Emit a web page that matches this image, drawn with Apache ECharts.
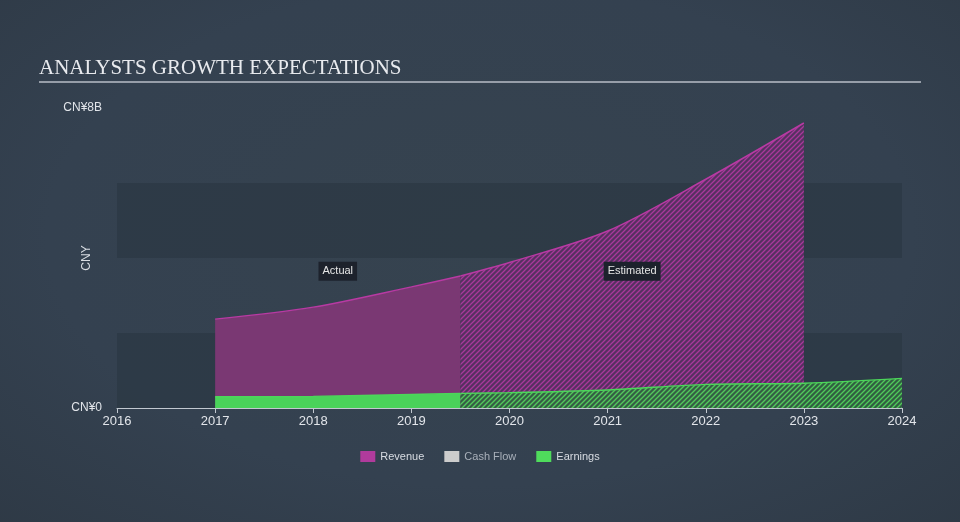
<!DOCTYPE html>
<html>
<head>
<meta charset="utf-8">
<script src="https://cdn.jsdelivr.net/npm/echarts@6/dist/echarts.min.js"></script>
<style>
html,body{margin:0;padding:0;width:960px;height:522px;overflow:hidden;
background: radial-gradient(ellipse 75% 80% at 50% 45%, #36434f 0%, #344150 60%, #2e3945 100%);}
#c{width:960px;height:522px;}
</style>
</head>
<body>
<div id="c"></div>
<script>
// ---- data (x in fractional years) ----
const titleText = 'ANALYSTS GROWTH EXPECTATIONS';
const legendNames = ['Revenue', 'Cash Flow', 'Earnings'];
const revenueActualYears = [2017.0, 2018.0, 2019.0, 2019.5];
const revenueActual = [2.37, 2.69, 3.23, 3.52];
const revenueEstYears = [2019.5, 2020.0, 2021.0, 2022.0, 2023.0];
const revenueEst = [3.52, 3.88, 4.72, 6.10, 7.60];
const earningsActualYears = [2017.0, 2018.0, 2019.0, 2019.5];
const earningsActual = [0.30, 0.31, 0.36, 0.39];
const earningsEstYears = [2019.5, 2020.0, 2021.0, 2022.0, 2023.0, 2024.0];
const earningsEst = [0.39, 0.41, 0.48, 0.63, 0.66, 0.79];
const annotations = [{ text: 'Actual', year: 2018.25, value: 3.65 }, { text: 'Estimated', year: 2021.25, value: 3.65 }];
const yTickValues = [0, 8];

function pairs(d, v) { return d.map((x, i) => [x, v[i]]); }

function hatch(bg, fg) {
  const c = document.createElement('canvas');
  c.width = 5; c.height = 5;
  const g = c.getContext('2d');
  g.fillStyle = bg; g.fillRect(0, 0, 5, 5);
  g.strokeStyle = fg; g.lineWidth = 1.3;
  g.beginPath();
  g.moveTo(0, 5); g.lineTo(5, 0);
  g.moveTo(-1, 1); g.lineTo(1, -1);
  g.moveTo(4, 6); g.lineTo(6, 4);
  g.stroke();
  return c;
}

const REV_LINE = '#b83aa3';
const REV_FILL = '#7a3873';
const EARN_LINE = '#4cd65a';
const EARN_FILL = '#4ad25a';
const revHatch = hatch('rgba(88,48,98,0.95)', 'rgba(178,58,162,0.9)');
const earnHatch = hatch('rgba(50,100,65,0.9)', 'rgba(82,210,92,0.95)');

const chart = echarts.init(document.getElementById('c'), null, { renderer: 'canvas' });
const font = 'Liberation Sans, Arial, sans-serif';
const SMOOTH = 0.3;

chart.setOption({
  backgroundColor: 'transparent',
  animation: false,
  title: {
    text: titleText, left: 34, top: 53,
    textStyle: { fontFamily: 'Liberation Serif, Times New Roman, serif', fontWeight: 'normal', fontSize: 21, color: '#e8eaee' }
  },
  graphic: [{
    type: 'line', shape: { x1: 39, y1: 82, x2: 921, y2: 82 },
    style: { stroke: '#b8bec7', lineWidth: 1.5 }
  }],
  legend: {
    bottom: 55, left: 'center', itemWidth: 15, itemHeight: 11, itemGap: 20,
    icon: 'rect',
    textStyle: { color: '#d8dce2', fontSize: 11, fontFamily: font },
    data: [
      { name: legendNames[0], itemStyle: { color: '#b03b9c' } },
      { name: legendNames[1], itemStyle: { color: '#cccccc' }, textStyle: { color: '#a9b0ba' } },
      { name: legendNames[2], itemStyle: { color: '#4fdc5c' } }
    ],
    selectedMode: false
  },
  grid: { left: 117, right: 58, top: 108, bottom: 114 },
  xAxis: {
    type: 'value',
    min: 2016, max: 2024, interval: 1,
    axisLine: { lineStyle: { color: '#c2c8d0', width: 1 } },
    axisTick: { show: true, length: 5, lineStyle: { color: '#c2c8d0' } },
    axisLabel: { color: '#e2e5ea', fontSize: 13, fontFamily: font, margin: 7,
      showMinLabel: true, showMaxLabel: true, formatter: v => String(Math.round(v)) },
    splitLine: { show: false }
  },
  yAxis: {
    type: 'value', min: 0, max: 8, interval: 2,
    name: 'CNY', nameLocation: 'middle', nameGap: 24, nameRotate: 90, nameMoveOverlap: false,
    nameTextStyle: { color: '#d8dce2', fontSize: 12, fontFamily: font },
    axisLine: { show: false }, axisTick: { show: false },
    axisLabel: { color: '#e2e5ea', fontSize: 12, fontFamily: font, margin: 15,
      formatter: v => yTickValues.indexOf(v) >= 0 ? ('CN¥' + v + (v === 0 ? '' : 'B')) : '' },
    splitLine: { show: false },
    splitArea: { show: true, areaStyle: { color: ['rgba(40,52,64,0.55)', 'rgba(0,0,0,0)'] } }
  },
  series: [
    {
      name: legendNames[0], type: 'line', data: pairs(revenueActualYears, revenueActual),
      smooth: SMOOTH, symbol: 'none',
      lineStyle: { color: REV_LINE, width: 1.5 }, itemStyle: { color: REV_LINE },
      areaStyle: { color: REV_FILL, opacity: 1 }, z: 2,
      markPoint: {
        symbol: 'rect', symbolSize: 0,
        data: annotations.map(a => ({ coord: [a.year, a.value], value: a.text })),
        label: { show: true, position: 'inside', formatter: p => p.value, color: '#e6e6e6', fontSize: 11, fontFamily: font,
          backgroundColor: '#1d222c', padding: [4, 4, 4, 4] }
      }
    },
    {
      name: legendNames[0], type: 'line', data: pairs(revenueEstYears, revenueEst),
      smooth: SMOOTH, symbol: 'none',
      lineStyle: { color: REV_LINE, width: 1.5 }, itemStyle: { color: REV_LINE },
      areaStyle: { color: { image: revHatch, repeat: 'repeat' }, opacity: 1 }, z: 2
    },
    { name: legendNames[1], type: 'line', data: [], itemStyle: { color: '#cccccc' } },
    {
      name: legendNames[2], type: 'line', data: pairs(earningsActualYears, earningsActual),
      smooth: SMOOTH, symbol: 'none',
      lineStyle: { color: EARN_LINE, width: 1.5 }, itemStyle: { color: EARN_LINE },
      areaStyle: { color: EARN_FILL, opacity: 1 }, z: 3
    },
    {
      name: legendNames[2], type: 'line', data: pairs(earningsEstYears, earningsEst),
      smooth: SMOOTH, symbol: 'none',
      lineStyle: { color: EARN_LINE, width: 1.5 }, itemStyle: { color: EARN_LINE },
      areaStyle: { color: { image: earnHatch, repeat: 'repeat' }, opacity: 1 }, z: 3
    }
  ]
});
</script>
</body>
</html>
